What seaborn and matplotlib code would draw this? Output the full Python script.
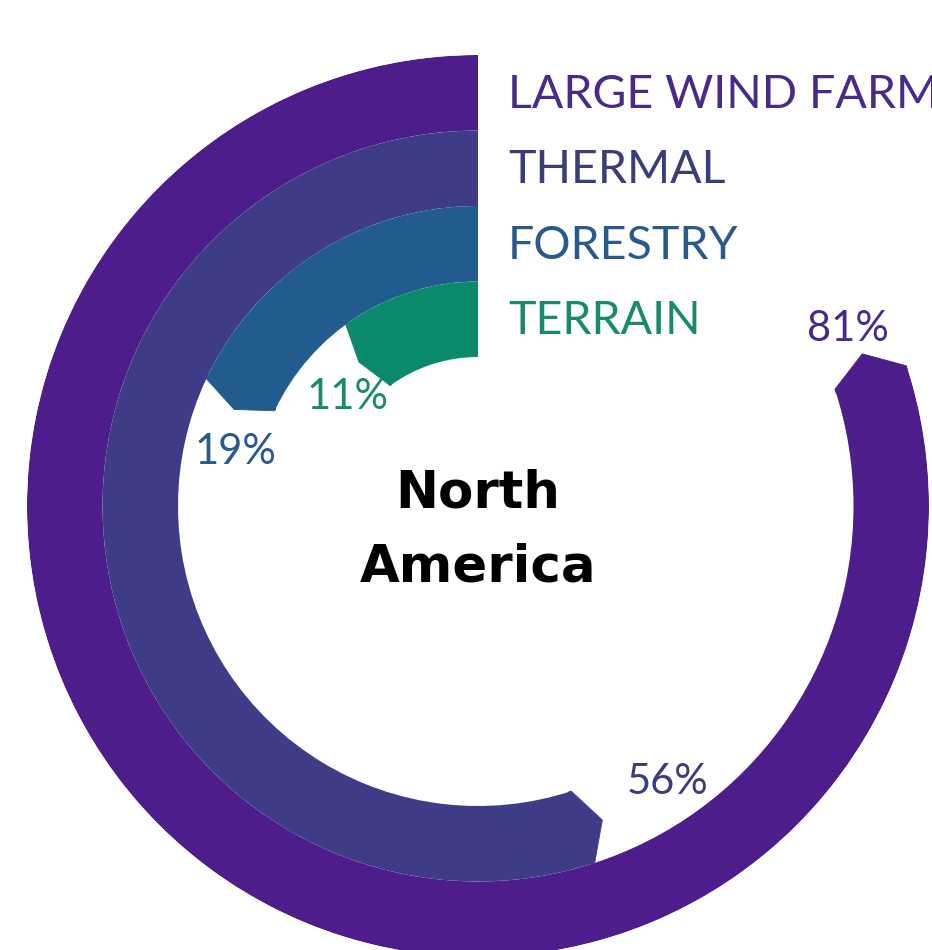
import numpy as np
import matplotlib
matplotlib.use("Agg")
import matplotlib.pyplot as plt
import seaborn as sns

sns.set_theme(style="white")
plt.rcParams['font.family'] = ['Lato', 'DejaVu Sans']

# ---- data ----
categories = ["LARGE WIND FARM", "THERMAL", "FORESTRY", "TERRAIN"]
values = [81, 56, 19, 11]
value_labels = ["81%", "56%", "19%", "11%"]
bar_colors = ["#4d1d8b", "#3e3c87", "#225b8e", "#0b8a6b"]
text_colors = ["#4a2a88", "#3a3d78", "#2a5a8c", "#1a8a6c"]
center_title = ["North", "America"]

# ---- layout (pixels) ----
W, H, DPI = 932, 950, 100
cx, cy = 478, 506          # circle centre, from top-left
R = 451                    # outer radius
ring_w = 75.5
bottoms = [R - ring_w * (i + 1) for i in range(len(values))]
tip_deg = 3.5              # chevron-shaped arc ends

fig = plt.figure(figsize=(W / DPI, H / DPI), dpi=DPI)
fig.patch.set_facecolor("white")
ax = fig.add_axes([(cx - R) / W, (H - cy - R) / H, 2 * R / W, 2 * R / H],
                  projection="polar")
ax.set_theta_zero_location("N")
ax.set_theta_direction(1)
ax.set_ylim(0, R)
ax.set_axis_off()

for v, b, c in zip(values, bottoms, bar_colors):
    th_end = v / 100 * 2 * np.pi
    th_c = th_end - np.deg2rad(tip_deg)
    ax.bar(0, ring_w, width=th_c, bottom=b, align="edge",
           color=c, edgecolor="none", linewidth=0)
    eps = np.deg2rad(0.6)
    ax.fill([th_c - eps, th_c, th_end, th_c, th_c - eps],
            [b, b, b + ring_w / 2, b + ring_w, b + ring_w],
            color=c, edgecolor=c, linewidth=0.6)

# percentage labels just past each arc end
label_offsets_deg = [4.0, 12.8, 9.0, 10.6]
label_dr = [-3.0, -3.0, -14.0, -17.0]
for v, b, lab, tc, od, dr in zip(values, bottoms, value_labels, text_colors,
                                 label_offsets_deg, label_dr):
    th = v / 100 * 2 * np.pi + np.deg2rad(od)
    ax.text(th, b + ring_w / 2 + dr, lab, color=tc, fontsize=30,
            ha="center", va="center")

# category labels next to the ring starts (top)
for cat, b, tc in zip(categories, bottoms, text_colors):
    y_px = cy - (b + ring_w / 2)
    fig.text(508 / W, 1 - (y_px + 2) / H, cat, color=tc, fontsize=33.5,
             ha="left", va="center")

for line, yc in zip(center_title, [494, 567]):
    fig.text(cx / W, 1 - yc / H, line, color="black", fontsize=37,
             ha="center", va="center", fontweight="bold",
             family=["DejaVu Sans"])

fig.savefig("out.png", dpi=DPI, facecolor="white")
